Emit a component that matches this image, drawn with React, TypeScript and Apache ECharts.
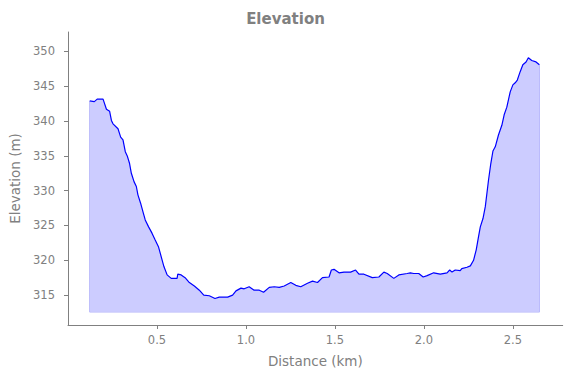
import React, { useEffect, useRef } from "react";
import * as echarts from "echarts";

const distanceKm = [
  0.122, 0.148, 0.164, 0.197, 0.216, 0.234, 0.244, 0.253, 0.281, 0.296, 0.309, 0.322, 0.333,
  0.346, 0.356, 0.371, 0.384, 0.393, 0.408, 0.421, 0.434, 0.453, 0.472, 0.49, 0.509, 0.524,
  0.539, 0.557, 0.58, 0.613, 0.617, 0.636, 0.658, 0.682, 0.71, 0.738, 0.763, 0.794, 0.826,
  0.85, 0.897, 0.925, 0.944, 0.972, 0.99, 1.018, 1.046, 1.075, 1.099, 1.131, 1.159, 1.187,
  1.215, 1.252, 1.28, 1.308, 1.346, 1.374, 1.402, 1.43, 1.467, 1.48, 1.495, 1.523, 1.551,
  1.588, 1.616, 1.635, 1.663, 1.71, 1.747, 1.775, 1.794, 1.831, 1.859, 1.906, 1.924, 1.943,
  1.971, 1.996, 2.018, 2.055, 2.092, 2.13, 2.145, 2.158, 2.176, 2.204, 2.213, 2.242, 2.261,
  2.279, 2.294, 2.307, 2.317, 2.332, 2.345, 2.363, 2.376, 2.388, 2.401, 2.419, 2.438, 2.451,
  2.466, 2.485, 2.5, 2.513, 2.525, 2.541, 2.556, 2.574, 2.587, 2.606, 2.63, 2.649,
];

const elevationM = [
  342.9, 342.8, 343.15, 343.15, 341.7, 341.4, 340.1, 339.6, 338.9, 337.7, 337.3, 335.6, 335.0,
  333.9, 332.5, 331.3, 330.6, 329.4, 328.2, 327.0, 325.8, 324.8, 323.9, 322.9, 321.9, 320.5,
  319.1, 317.9, 317.4, 317.4, 318.0, 317.9, 317.5, 316.8, 316.3, 315.7, 315.0, 314.9, 314.5,
  314.7, 314.7, 315.0, 315.6, 316.0, 315.9, 316.2, 315.7, 315.7, 315.4, 316.1, 316.2, 316.1,
  316.3, 316.8, 316.4, 316.2, 316.7, 317.0, 316.8, 317.5, 317.6, 318.6, 318.7, 318.2, 318.3,
  318.3, 318.6, 318.0, 318.0, 317.5, 317.6, 318.3, 318.1, 317.4, 317.9, 318.1, 318.2, 318.1,
  318.1, 317.6, 317.8, 318.2, 318.0, 318.2, 318.6, 318.3, 318.6, 318.5, 318.8, 319.0, 319.2,
  320.0, 321.5, 323.4, 324.8, 326.0, 327.7, 331.5, 333.9, 335.7, 336.3, 338.0, 339.4, 340.9,
  342.0, 344.2, 345.2, 345.5, 345.9, 347.1, 348.1, 348.5, 349.1, 348.7, 348.5, 348.1,
];

const fillBase = 312.6;
const xTicks = [0.5, 1.0, 1.5, 2.0, 2.5];
const yTicks = [315, 320, 325, 330, 335, 340, 345, 350];

const GRAY = "#808080";
const FONT = "DejaVu Sans";

export default function App() {
  const ref = useRef<HTMLDivElement>(null);

  useEffect(() => {
    if (!ref.current) return;
    const chart = echarts.init(ref.current, undefined, { renderer: "svg" });
    const lineData = distanceKm.map((d, i) => [d, elevationM[i]]);
    const n = distanceKm.length - 1;
    const edgeData = [
      [distanceKm[0], elevationM[0]],
      [distanceKm[0], fillBase],
      [distanceKm[n], fillBase],
      [distanceKm[n], elevationM[n]],
    ];
    chart.setOption({
      animation: false,
      backgroundColor: "#ffffff",
      title: {
        text: "Elevation",
        left: "center",
        top: 6,
        textStyle: { color: GRAY, fontFamily: FONT, fontWeight: "bold", fontSize: 15 },
      },
      grid: { left: 66.5, right: 8.3, top: 32, bottom: 53 },
      xAxis: {
        type: "value",
        min: 0,
        max: 2.78,
        name: "Distance (km)",
        nameLocation: "middle",
        nameGap: 29,
        nameTextStyle: { color: GRAY, fontFamily: FONT, fontSize: 13.5 },
        axisLine: { show: true, lineStyle: { color: GRAY, width: 1 } },
        axisTick: { show: true, length: 4, lineStyle: { color: GRAY }, customValues: xTicks },
        axisLabel: {
          color: GRAY,
          fontFamily: FONT,
          fontSize: 11.5,
          margin: 9,
          customValues: xTicks,
          formatter: (v: number) => v.toFixed(1),
        },
        splitLine: { show: false },
      },
      yAxis: {
        type: "value",
        min: 310.7,
        max: 352.8,
        name: "Elevation (m)",
        nameLocation: "middle",
        nameGap: 46,
        nameTextStyle: { color: GRAY, fontFamily: FONT, fontSize: 13.5 },
        axisLine: { show: true, lineStyle: { color: GRAY, width: 1 } },
        axisTick: { show: true, length: 4, lineStyle: { color: GRAY }, customValues: yTicks },
        axisLabel: {
          color: GRAY,
          fontFamily: FONT,
          fontSize: 11.5,
          margin: 13,
          customValues: yTicks,
          formatter: (v: number) => String(Math.round(v)),
        },
        splitLine: { show: false },
      },
      series: [
        {
          type: "line",
          data: edgeData,
          symbol: "none",
          silent: true,
          z: 1,
          lineStyle: { color: "#b2b2fa", width: 1.2 },
        },
        {
          type: "line",
          data: lineData,
          symbol: "none",
          z: 2,
          lineStyle: { color: "#0000ff", width: 1.2 },
          areaStyle: { color: "#ccccff", opacity: 1, origin: fillBase },
        },
      ],
    });
    return () => chart.dispose();
  }, []);

  return (
    <div
      ref={ref}
      style={{ position: "absolute", left: 0, top: 0, width: 571, height: 378 }}
    />
  );
}
